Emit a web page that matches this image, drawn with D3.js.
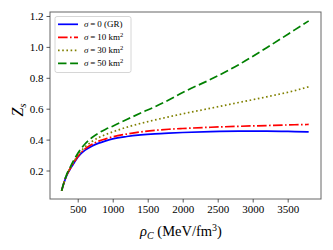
<!DOCTYPE html>
<html><head><meta charset="utf-8">
<script src="https://cdn.jsdelivr.net/npm/d3@7"></script>
<style>body{margin:0;background:#fff}svg{display:block}text{font-family:"Liberation Serif","DejaVu Serif",serif}</style>
</head><body>
<svg id="c" width="333" height="250"></svg>
<script>
const rho = [270,300,350,400,450,500,600,700,800,900,1000,1200,1400,1600,1800,2000,2400,2800,3200,3600,3800];
const zGR  = [0.069,0.115,0.175,0.215,0.25,0.285,0.33,0.357,0.377,0.392,0.405,0.42,0.43,0.437,0.442,0.446,0.452,0.455,0.455,0.452,0.450];
const z10  = [0.069,0.116,0.177,0.218,0.255,0.29,0.338,0.368,0.39,0.405,0.418,0.436,0.45,0.46,0.467,0.472,0.48,0.486,0.491,0.496,0.498];
const z30  = [0.069,0.117,0.18,0.222,0.262,0.298,0.35,0.387,0.413,0.433,0.45,0.48,0.505,0.527,0.547,0.567,0.603,0.64,0.677,0.717,0.742];
const z50  = [0.069,0.118,0.183,0.229,0.271,0.31,0.37,0.412,0.443,0.467,0.487,0.53,0.572,0.612,0.656,0.705,0.79,0.885,0.995,1.11,1.168];
const xTicks = [500,1000,1500,2000,2500,3000,3500];
const yTicks = [0.2,0.4,0.6,0.8,1.0,1.2];
const seriesNames = ["σ = 0 (GR)","σ = 10 km²","σ = 30 km²","σ = 50 km²"];

const svg = d3.select("#c");
const L=50,R=321,T=12,B=199;
const x = d3.scaleLinear().domain([104,3976]).range([L,R]);
const y = d3.scaleLinear().domain([0.2-(199-170.5)/154.5, 1.2+(16-12)/154.5]).range([B,T]);

const series = [
  {v:zGR, color:"#0000ff", dash:null, name:seriesNames[0]},
  {v:z10, color:"#ff0000", dash:"9.6,2.4,1.6,2.4", name:seriesNames[1]},
  {v:z30, color:"#808000", dash:"1.6,2.6", name:seriesNames[2]},
  {v:z50, color:"#008000", dash:"8.5,3.6", name:seriesNames[3]}
];
const line = d3.line().x((d,i)=>x(rho[i])).y(d=>y(d)).curve(d3.curveMonotoneX);
const g = svg.append("g");
series.forEach(s=>{
  g.append("path").attr("d",line(s.v)).attr("fill","none").attr("stroke",s.color)
   .attr("stroke-width",1.7).attr("stroke-dasharray",s.dash);
});

// frame
svg.append("rect").attr("x",L).attr("y",T).attr("width",R-L).attr("height",B-T)
  .attr("fill","none").attr("stroke","#666").attr("stroke-width",1);

// axes
const xa = svg.append("g").attr("transform",`translate(0,${B})`)
  .call(d3.axisBottom(x).tickValues(xTicks).tickSize(3.5).tickPadding(3).tickFormat(d3.format("d")));
const ya = svg.append("g").attr("transform",`translate(${L},0)`)
  .call(d3.axisLeft(y).tickValues(yTicks).tickSize(3.5).tickPadding(3).tickFormat(d3.format(".1f")));
[xa,ya].forEach(a=>{
  a.select(".domain").remove();
  a.selectAll(".tick line").attr("stroke","#333").attr("stroke-width",0.8);
  a.selectAll(".tick text").attr("fill","#000").style("font-size","11px").style("font-family","'Liberation Serif',serif");
});

// axis labels
svg.append("text").attr("x",181).attr("y",236).attr("text-anchor","middle")
  .style("font-size","14.5px").html('<tspan font-style="italic">ρ</tspan><tspan font-style="italic" font-size="10px" dy="3">C</tspan><tspan dy="-3"> (MeV/fm</tspan><tspan font-size="10px" dy="-5">3</tspan><tspan dy="5">)</tspan>');
svg.append("text").attr("transform","translate(23,110) rotate(-90)").attr("text-anchor","middle")
  .style("font-size","16px").html('<tspan font-style="italic">Z</tspan><tspan font-style="italic" font-size="11px" dy="3">s</tspan>');

// legend
const lg = svg.append("g");
lg.append("rect").attr("x",55).attr("y",16.5).attr("width",76).attr("height",56).attr("rx",2)
  .attr("fill","#fff").attr("fill-opacity",0.8).attr("stroke","#ccc").attr("stroke-width",0.8);
series.forEach((s,i)=>{
  const yy = 24.3 + i*13;
  lg.append("line").attr("x1",58).attr("x2",78).attr("y1",yy).attr("y2",yy)
    .attr("stroke",s.color).attr("stroke-width",1.7).attr("stroke-dasharray",s.dash);
  const t = lg.append("text").attr("x",84).attr("y",yy+3).style("font-size","9px");
  const parts = s.name.split(" = ");
  t.append("tspan").attr("font-style","italic").text("σ");
  t.append("tspan").text("\u2009=\u2009");
  if (parts[1].includes("km²")) {
    t.append("tspan").text(parts[1].replace("²",""));
    t.append("tspan").attr("font-size","6.5px").attr("dy",-3.5).text("2");
  } else t.append("tspan").text(parts[1]);
});
</script>
</body></html>
